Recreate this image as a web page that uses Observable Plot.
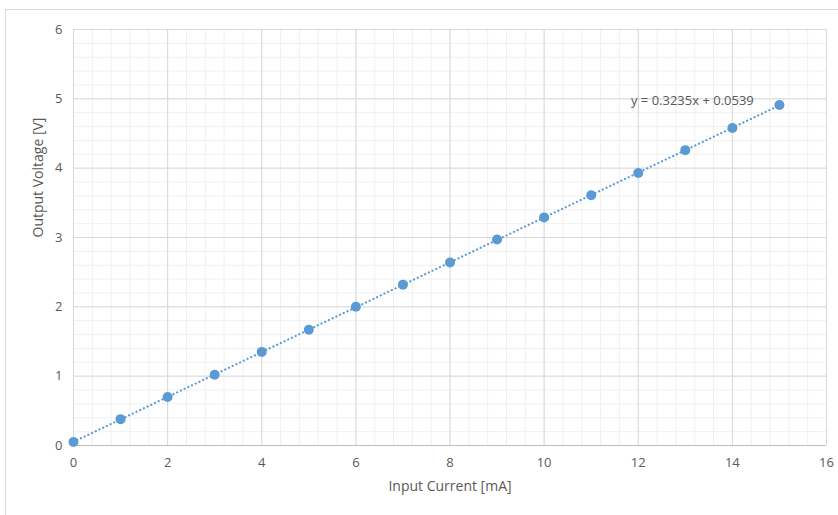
<!DOCTYPE html>
<html>
<head>
<meta charset="utf-8">
<script src="https://cdn.jsdelivr.net/npm/d3@7"></script>
<script src="https://cdn.jsdelivr.net/npm/@observablehq/plot@0.6"></script>
<style>
  html, body { margin: 0; padding: 0; background: #fff; }
  #wrap { position: relative; width: 838px; height: 515px; overflow: hidden; }
  #border { position: absolute; left: 5px; top: 9px; width: 900px; height: 600px;
            border-left: 1px solid #d9d9d9; border-top: 1px solid #d9d9d9; }
  #chart { position: absolute; left: 0; top: 0; }
</style>
</head>
<body>
<div id="wrap"><div id="border"></div><div id="chart"></div></div>
<script>
const current = [0, 1, 2, 3, 4, 5, 6, 7, 8, 9, 10, 11, 12, 13, 14, 15];
const voltage = [0.05, 0.38, 0.70, 1.02, 1.35, 1.67, 2.00, 2.32, 2.64, 2.97, 3.29, 3.61, 3.93, 4.26, 4.58, 4.91];
const xTicks = [0, 2, 4, 6, 8, 10, 12, 14, 16];
const yTicks = [0, 1, 2, 3, 4, 5, 6];
const xMinor = d3.range(0, 16.001, 0.4);
const yMinor = d3.range(0, 6.001, 0.2);
const xTitle = "Input Current [mA]";
const yTitle = "Output Voltage [V]";
const equationLabel = "y = 0.3235x + 0.0539";
const equationPos = {x: 13.15, y: 4.97};

const data = current.map((c, i) => ({x: c, y: voltage[i]}));
const font = "'Open Sans', sans-serif";

const chart = Plot.plot({
  width: 838,
  height: 515,
  marginLeft: 73,
  marginRight: 12,
  marginTop: 29,
  marginBottom: 70,
  style: {fontFamily: font, fontSize: "13px", color: "#595959", background: "transparent"},
  x: {domain: [0, 16]},
  y: {domain: [0, 6]},
  marks: [
    Plot.gridX(xMinor, {stroke: "#f0f0f0", strokeOpacity: 1}),
    Plot.gridY(yMinor, {stroke: "#f0f0f0", strokeOpacity: 1}),
    Plot.gridX(xTicks, {stroke: "#d9d9d9", strokeOpacity: 1}),
    Plot.gridY(yTicks, {stroke: "#d9d9d9", strokeOpacity: 1}),
    Plot.ruleY([0], {stroke: "#bfbfbf"}),
    Plot.ruleX([0], {stroke: "#d9d9d9"}),
    Plot.axisX(xTicks, {tickSize: 0, tickPadding: 12, fontSize: 13, fill: "#595959",
      tickFormat: d3.format("d"), label: null}),
    Plot.axisY(yTicks, {tickSize: 0, tickPadding: 11, fontSize: 13, fill: "#595959",
      tickFormat: d3.format("d"), label: null}),
    Plot.text([xTitle], {frameAnchor: "bottom", dy: 45, fontSize: 14, fill: "#595959"}),
    Plot.text([yTitle], {frameAnchor: "left", dx: -35, rotate: -90, fontSize: 14, fill: "#595959"}),
    Plot.linearRegressionY(data, {x: "x", y: "y", ci: 0, stroke: "#5b9bd5", strokeWidth: 2.2,
      strokeDasharray: "0.1,4", strokeLinecap: "round"}),
    Plot.dot(data, {x: "x", y: "y", r: 5, fill: "#5b9bd5", stroke: "none"}),
    Plot.text([equationPos], {x: "x", y: "y", text: () => equationLabel, fill: "#595959",
      fontSize: 13, textAnchor: "middle"})
  ]
});
document.getElementById("chart").appendChild(chart);
</script>
</body>
</html>
